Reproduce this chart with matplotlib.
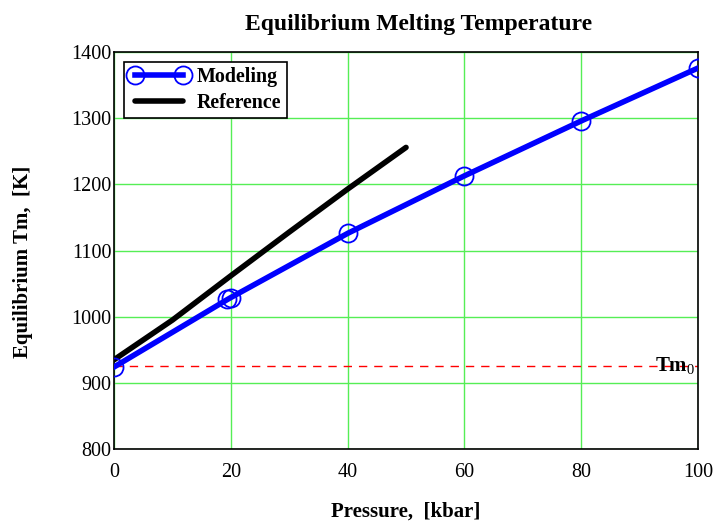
import matplotlib
matplotlib.use("Agg")
import matplotlib.pyplot as plt

# --- data ---
model_p = [0, 19.4, 20, 40, 60, 80, 100]
model_tm = [924, 1026, 1029, 1126, 1213, 1296, 1376]

ref_p = [0, 5, 10, 20, 30, 40, 50]
ref_tm = [935, 965, 995, 1062, 1128, 1193, 1256]

tm0 = 925

x_ticks = [0, 20, 40, 60, 80, 100]
y_ticks = [800, 900, 1000, 1100, 1200, 1300, 1400]

plt.rcParams['font.family'] = ['Liberation Serif', 'DejaVu Serif']
plt.rcParams['mathtext.fontset'] = 'custom'
plt.rcParams['mathtext.rm'] = 'Liberation Serif'
plt.rcParams['mathtext.bf'] = 'Liberation Serif:bold'

fig = plt.figure(figsize=(7.18, 5.22), dpi=100)
ax = fig.add_axes([0.159, 0.140, 0.813, 0.760])

ax.plot(model_p, model_tm, color='#0000ff', lw=4, marker='o', ms=13,
        mfc='none', mec='#0000ff', mew=1.3, label='Modeling', zorder=4)
ax.plot(ref_p, ref_tm, color='black', lw=4, solid_capstyle='round',
        label='Reference', zorder=3)
ax.axhline(tm0, color='red', lw=1, ls=(0, (6, 5)), zorder=2)
ax.text(99.5, tm0, r'$\mathbf{Tm}_{\mathrm{0}}$', ha='right', va='center',
        fontsize=15, zorder=5)

ax.set_xlim(0, 100)
ax.set_ylim(800, 1400)
ax.set_xticks(x_ticks)
ax.set_yticks(y_ticks)
ax.grid(True, color='#55ee55', lw=1)
ax.set_axisbelow(True)
ax.tick_params(length=0, labelsize=14.5, pad=2)
ax.tick_params(axis='x', pad=10)
for s in ax.spines.values():
    s.set_linewidth(1.2)

ax.set_title('Equilibrium Melting Temperature', fontsize=17,
             fontweight='bold', pad=16, x=0.522)
ax.set_xlabel('Pressure,  [kbar]', fontsize=15, fontweight='bold', labelpad=14)
ax.set_ylabel('Equilibrium Tm,  [K]', fontsize=15, fontweight='bold')
ax.yaxis.set_label_coords(-0.139, 0.471)

leg = ax.legend(loc='upper left', prop={'weight': 'bold', 'size': 14.4},
                numpoints=2, fancybox=False, edgecolor='black', framealpha=1,
                handlelength=3.0, borderaxespad=0.5, borderpad=0.25,
                labelspacing=0.3, handletextpad=0.4)
leg.get_frame().set_linewidth(1.2)

fig.savefig('out.png', dpi=100)
